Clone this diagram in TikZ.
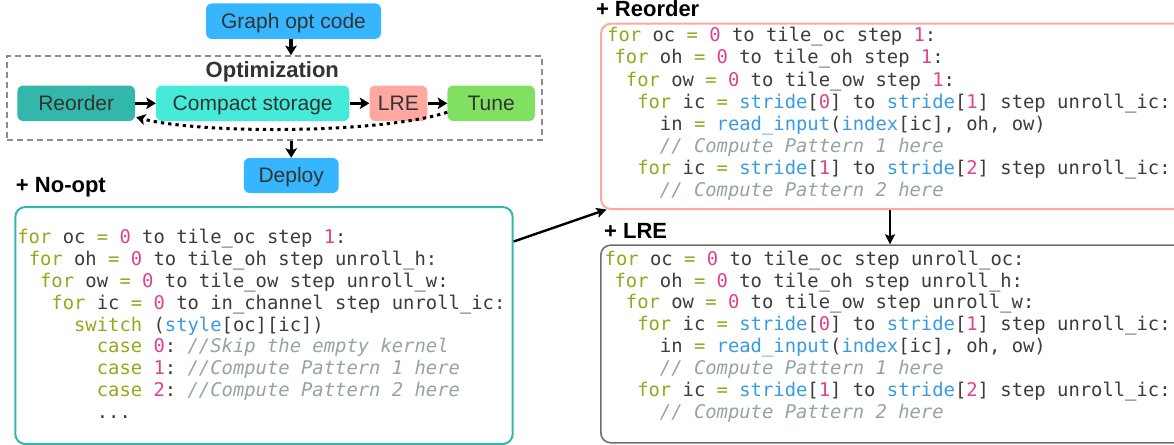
\documentclass[tikz,border=0pt]{standalone}
\usepackage{fontspec}
\setmainfont{Liberation Sans}
\setmonofont{DejaVu Sans Mono}
\usetikzlibrary{arrows.meta,calc}
\definecolor{cblue}{RGB}{54,182,255}
\definecolor{cteal}{RGB}{51,183,170}
\definecolor{ccyan}{RGB}{70,234,216}
\definecolor{csalmon}{RGB}{255,168,160}
\definecolor{cgreen}{RGB}{128,224,98}
\definecolor{cdark}{RGB}{51,51,51}
\definecolor{cdash}{RGB}{140,140,140}
\definecolor{cgrayborder}{RGB}{110,110,110}
\definecolor{ctxt}{RGB}{60,60,60}
\definecolor{ckwc}{RGB}{152,166,30}
\definecolor{cnumc}{RGB}{222,66,140}
\definecolor{cfunc}{RGB}{58,155,225}
\definecolor{ccomc}{RGB}{150,163,163}
\newcommand\codefont{\ttfamily\fontsize{18.85}{22}\selectfont}
\newcommand\ckw[1]{{\color{ckwc}#1}}
\newcommand\cnum[1]{{\color{cnumc}#1}}
\newcommand\cfun[1]{{\color{cfunc}#1}}
\newcommand\ccom[1]{{\color{ccomc}\itshape #1}}
\begin{document}
\begin{tikzpicture}[x=1pt,y=-1pt,
  flowbox/.style={rounded corners=6pt, inner sep=0pt, minimum height=35.5pt, text=cdark, text height=14.6pt, text depth=0pt, font=\fontsize{21}{25}\selectfont},
  codeline/.style={anchor=base west, inner sep=0pt, font=\codefont, text=ctxt},
  lbl/.style={anchor=base west, inner sep=0pt, font=\bfseries\fontsize{22}{26}\selectfont, text=black},
  farrow/.style={-{Stealth[length=9.5pt,width=11.5pt,inset=2pt]}, line width=3.2pt},
  bigarrow/.style={-{Stealth[length=10pt,width=10pt,inset=2pt]}, line width=2.4pt},
  dotarrow/.style={-{Stealth[length=9pt,width=11pt,inset=2pt]}, line width=3pt, dash pattern=on 3.3pt off 4pt},
  codebox/.style={rounded corners=10pt, line width=2pt, inner sep=0pt, anchor=north west}
]
\useasboundingbox (0,0) rectangle (1174,444);
\clip (0,0) rectangle (1174,444);

% ---------- flow chart ----------
\node[flowbox, fill=cblue, minimum width=175pt] (gopt) at (293.5,21.2) {Graph opt code};
\node[draw=cdash, dash pattern=on 6pt off 4pt, line width=2pt, inner sep=0pt, minimum width=535pt, minimum height=83.8pt] (optbox) at (274.2,98.1) {};
\node[anchor=base, inner sep=0pt, font=\bfseries\fontsize{22}{26}\selectfont, text=cdark] (optlabel) at (272.3,77.3) {Optimization};
\node[flowbox, fill=cteal, minimum width=117.7pt] (reord) at (76.2,103.3) {Reorder};
\node[flowbox, fill=ccyan, minimum width=193.3pt] (compact) at (252.7,103.3) {Compact storage};
\node[flowbox, fill=csalmon, minimum width=57.8pt] (lre) at (398.4,103.3) {LRE};
\node[flowbox, fill=cgreen, minimum width=87.5pt] (tune) at (491.2,103.3) {Tune};
\node[flowbox, fill=cblue, minimum width=94.8pt, minimum height=35pt] (deploy) at (291.2,175.5) {Deploy};

\draw[farrow] ($(gopt.south)+(-2.5,0)$) -- ($(optbox.north)+(16.8,0)$);
\draw[farrow] (reord.east) -- (compact.west);
\draw[farrow] (compact.east) -- (lre.west);
\draw[farrow] (lre.east) -- (tune.west);
\draw[farrow] (optbox.south -| deploy.north) -- (deploy.north);
\draw[dotarrow] ($(tune.south west)+(0,-9)$) .. controls (380,134) and (200,134) .. ($(reord.south east)+(1,-4)$);

% ---------- labels ----------
\node[lbl] (lnoopt) at (15.8,192.7) {+ No-opt};
\node[lbl] (lreorder) at (595.8,17) {+ Reorder};
\node[lbl] (llre) at (604,238) {+ LRE};

% ---------- code boxes ----------
\node[codebox, draw=cteal, minimum width=497.4pt, minimum height=237pt] (noopt) at (14.3,206) {};
\node[codebox, draw=csalmon, minimum width=600pt, minimum height=185.3pt] (reorderbox) at (600,22.7) {};
\node[codebox, draw=cgrayborder, line width=1.6pt, minimum width=600pt, minimum height=197.7pt] (lrebox) at (600,244.3) {};

\draw[bigarrow] ($(noopt.north east)+(0,35.5)$) -- ($(reorderbox.south west)+(6.5,-0.5)$);
\draw[bigarrow] ($(reorderbox.south west)+(290,0)$) -- ($(lrebox.north west)+(290,0)$);

% No-opt code (base x 17.2, cw 11.35)
\node[codeline] (n1) at (17.2,243.4) {\ckw{for} oc \ckw{=} \cnum{0} to tile\_oc step \cnum{1}:};
\node[codeline] (n2) at (28.55,265.3) {\ckw{for} oh \ckw{=} \cnum{0} to tile\_oh step unroll\_h:};
\node[codeline] (n3) at (39.9,287.2) {\ckw{for} ow \ckw{=} \cnum{0} to tile\_ow step unroll\_w:};
\node[codeline] (n4) at (51.25,309.1) {\ckw{for} ic \ckw{=} \cnum{0} to in\_channel step unroll\_ic:};
\node[codeline] (n5) at (73.95,331.0) {\ckw{switch} (\cfun{style}[oc][ic])};
\node[codeline] (n6) at (96.65,352.9) {\ckw{case} \cnum{0}: \ccom{//Skip the empty kernel}};
\node[codeline] (n7) at (96.65,374.8) {\ckw{case} \cnum{1}: \ccom{//Compute Pattern 1 here}};
\node[codeline] (n8) at (96.65,396.7) {\ckw{case} \cnum{2}: \ccom{//Compute Pattern 2 here}};
\node[codeline] (n9) at (96.65,418.6) {...};

% Reorder code (base x 603, cw 11.32)
\node[codeline] (r1) at (607,41.8) {\ckw{for} oc \ckw{=} \cnum{0} to tile\_oc step \cnum{1}:};
\node[codeline] (r2) at (614.35,63.9) {\ckw{for} oh \ckw{=} \cnum{0} to tile\_oh step \cnum{1}:};
\node[codeline] (r3) at (625.7,86.0) {\ckw{for} ow \ckw{=} \cnum{0} to tile\_ow step \cnum{1}:};
\node[codeline] (r4) at (637.05,108.1) {\ckw{for} ic \ckw{=} \cfun{stride}[\cnum{0}] to \cfun{stride}[\cnum{1}] step unroll\_ic:};
\node[codeline] (r5) at (659.75,130.2) {in \ckw{=} \cfun{read\_input}(\cfun{index}[ic], oh, ow)};
\node[codeline] (r6) at (659.75,152.3) {\ccom{// Compute Pattern 1 here}};
\node[codeline] (r7) at (637.05,174.4) {\ckw{for} ic \ckw{=} \cfun{stride}[\cnum{1}] to \cfun{stride}[\cnum{2}] step unroll\_ic:};
\node[codeline] (r8) at (659.75,196.5) {\ccom{// Compute Pattern 2 here}};

% LRE code
\node[codeline] (e1) at (604.5,265.1) {\ckw{for} oc \ckw{=} \cnum{0} to tile\_oc step unroll\_oc:};
\node[codeline] (e2) at (614.35,287.0) {\ckw{for} oh \ckw{=} \cnum{0} to tile\_oh step unroll\_h:};
\node[codeline] (e3) at (625.7,308.9) {\ckw{for} ow \ckw{=} \cnum{0} to tile\_ow step unroll\_w:};
\node[codeline] (e4) at (637.05,330.8) {\ckw{for} ic \ckw{=} \cfun{stride}[\cnum{0}] to \cfun{stride}[\cnum{1}] step unroll\_ic:};
\node[codeline] (e5) at (659.75,352.7) {in \ckw{=} \cfun{read\_input}(\cfun{index}[ic], oh, ow)};
\node[codeline] (e6) at (659.75,374.6) {\ccom{// Compute Pattern 1 here}};
\node[codeline] (e7) at (637.05,396.5) {\ckw{for} ic \ckw{=} \cfun{stride}[\cnum{1}] to \cfun{stride}[\cnum{2}] step unroll\_ic:};
\node[codeline] (e8) at (659.75,418.4) {\ccom{// Compute Pattern 2 here}};
\end{tikzpicture}
\end{document}
